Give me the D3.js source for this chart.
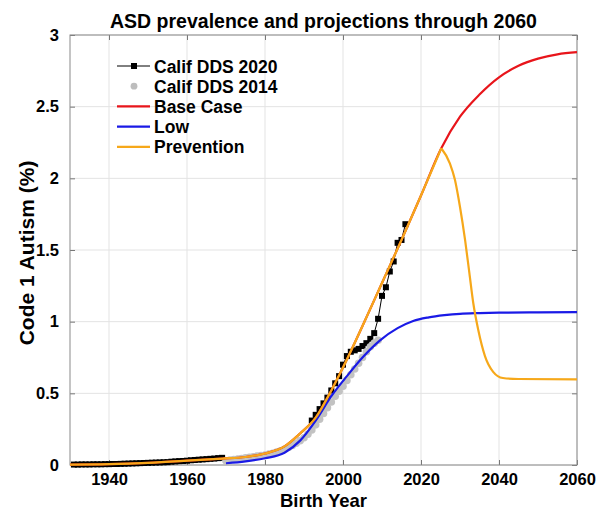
<!DOCTYPE html>
<html>
<head>
<meta charset="utf-8">
<script src="https://cdn.jsdelivr.net/npm/d3@7"></script>
<style>
  body { margin: 0; background: #fff; }
  svg text { font-family: "Liberation Sans", Arial, Helvetica, sans-serif; font-weight: bold; fill: #000; }
  .grid line { stroke: #e3e3e3; stroke-width: 1; }
</style>
</head>
<body>
<div id="main"></div>
<script>
var cfg = {
    width: 599,
    height: 512,
    left: 70,
    right: 577,
    top: 35,
    bottom: 465
};

// Calif DDS 2020, yearly (two stretches, gap 1970-1991)
var dds2020EarlyYears = d3.range(1931, 1970);
var dds2020EarlyValues = [
    0.003, 0.003, 0.004, 0.004, 0.004, 0.005, 0.005, 0.005, 0.006, 0.006,
    0.007, 0.007, 0.008, 0.009, 0.010, 0.011, 0.012, 0.013, 0.014, 0.015,
    0.016, 0.017, 0.018, 0.019, 0.020, 0.023, 0.025, 0.027, 0.028, 0.030,
    0.033, 0.035, 0.037, 0.039, 0.041, 0.043, 0.045, 0.048, 0.050
];
var dds2020LateYears = d3.range(1992, 2017);
var dds2020LateValues = [
    0.31, 0.35, 0.39, 0.43, 0.47, 0.52, 0.57, 0.62, 0.70, 0.76,
    0.79, 0.80, 0.81, 0.83, 0.85, 0.88, 0.92, 1.02, 1.18, 1.24,
    1.35, 1.42, 1.55, 1.57, 1.68
];

// Calif DDS 2014, yearly
var dds2014Years = d3.range(1970, 2010);
var dds2014Values = [
    0.030, 0.034, 0.038, 0.041, 0.045, 0.050, 0.054, 0.058, 0.062, 0.066,
    0.070, 0.076, 0.082, 0.090, 0.099, 0.110, 0.122, 0.136, 0.152, 0.170,
    0.190, 0.215, 0.245, 0.280, 0.320, 0.360, 0.400, 0.440, 0.480, 0.515,
    0.550, 0.590, 0.630, 0.670, 0.710, 0.750, 0.790, 0.825, 0.850, 0.870
];

// model projections
var baseYears = [1930, 1940, 1950, 1960, 1969, 1975, 1980, 1985, 1989, 1993,
    1997, 2000, 2005, 2010, 2015, 2020, 2025.2, 2030, 2035, 2040,
    2045, 2050, 2055, 2060];
var baseValues = [0.003, 0.006, 0.015, 0.030, 0.045, 0.056, 0.080, 0.130, 0.220, 0.330,
    0.520, 0.680, 0.970, 1.270, 1.570, 1.880, 2.210, 2.430, 2.585, 2.705,
    2.785, 2.835, 2.865, 2.880];

var lowYears = [1970, 1975, 1980, 1985, 1989, 1993, 1997, 2001, 2005, 2009.5,
    2014, 2018, 2022, 2026, 2030, 2035, 2040, 2050, 2060];
var lowValues = [0.012, 0.025, 0.047, 0.085, 0.170, 0.310, 0.480, 0.620, 0.750, 0.870,
    0.955, 1.005, 1.030, 1.045, 1.055, 1.060, 1.063, 1.065, 1.066];

var prevYears = [1930, 1940, 1950, 1960, 1969, 1975, 1980, 1985, 1989, 1993,
    1997, 2000, 2005, 2010, 2015, 2020, 2025.2, 2027.4, 2028.7, 2030, 2031.3,
    2032.4, 2033.4, 2034.7, 2036.4, 2038.5, 2041, 2045, 2060];
var prevValues = [0.003, 0.006, 0.015, 0.030, 0.045, 0.056, 0.080, 0.130, 0.220, 0.330,
    0.520, 0.680, 0.970, 1.270, 1.570, 1.880, 2.210, 2.105, 1.990, 1.800, 1.570,
    1.340, 1.130, 0.940, 0.760, 0.650, 0.607, 0.600, 0.598];
var prevPeakYear = 2025.2;

var xTicks = [1940, 1960, 1980, 2000, 2020, 2040, 2060];
var yTicks = [0, 0.5, 1, 1.5, 2, 2.5, 3];

var legendItems = [
    { label: "Calif DDS 2020", type: "square", color: "#000" },
    { label: "Calif DDS 2014", type: "dot", color: "#bdbdbd" },
    { label: "Base Case", type: "line", color: "#e8151b" },
    { label: "Low", type: "line", color: "#1a1ae6" },
    { label: "Prevention", type: "line", color: "#f6a81a" }
];

var x = d3.scaleLinear().domain([1930, 2060]).range([cfg.left, cfg.right]);
var y = d3.scaleLinear().domain([0, 3]).range([cfg.bottom, cfg.top]);

function zip(xs, ys) {
    return xs.map(function (d, i) { return [d, ys[i]]; });
}

var line = d3.line()
    .x(function (d) { return x(d[0]); })
    .y(function (d) { return y(d[1]); })
    .curve(d3.curveMonotoneX);
var straight = d3.line()
    .x(function (d) { return x(d[0]); })
    .y(function (d) { return y(d[1]); });

var svg = d3.select("#main").append("svg")
    .attr("width", cfg.width)
    .attr("height", cfg.height);

// grid
var grid = svg.append("g").attr("class", "grid");
grid.selectAll(".gx").data(xTicks).enter().append("line")
    .attr("x1", function (d) { return x(d); })
    .attr("x2", function (d) { return x(d); })
    .attr("y1", cfg.top).attr("y2", cfg.bottom);
grid.selectAll(".gy").data(yTicks).enter().append("line")
    .attr("y1", function (d) { return y(d); })
    .attr("y2", function (d) { return y(d); })
    .attr("x1", cfg.left).attr("x2", cfg.right);

// axes with inward ticks (box style)
function styleAxis(g) {
    g.select(".domain").remove();
    g.selectAll(".tick line").attr("stroke", "#777");
    g.selectAll(".tick text").style("font-size", "16.5px");
}
svg.append("g")
    .attr("transform", "translate(0," + cfg.bottom + ")")
    .call(d3.axisBottom(x).tickValues(xTicks).tickFormat(d3.format("d")).tickSize(-5).tickPadding(8))
    .call(styleAxis);
svg.append("g")
    .attr("transform", "translate(0," + cfg.top + ")")
    .call(d3.axisTop(x).tickValues(xTicks).tickFormat("").tickSize(-5))
    .call(styleAxis);
svg.append("g")
    .attr("transform", "translate(" + cfg.left + ",0)")
    .call(d3.axisLeft(y).tickValues(yTicks).tickFormat(d3.format("~g")).tickSize(-5).tickPadding(11))
    .call(styleAxis);
svg.append("g")
    .attr("transform", "translate(" + cfg.right + ",0)")
    .call(d3.axisRight(y).tickValues(yTicks).tickFormat("").tickSize(-5))
    .call(styleAxis);

svg.append("rect")
    .attr("x", cfg.left).attr("y", cfg.top)
    .attr("width", cfg.right - cfg.left).attr("height", cfg.bottom - cfg.top)
    .attr("fill", "none").attr("stroke", "#8a8a8a").attr("stroke-width", 1);

// data: DDS 2020
[zip(dds2020EarlyYears, dds2020EarlyValues), zip(dds2020LateYears, dds2020LateValues)].forEach(function (seg) {
    svg.append("path")
        .datum(seg)
        .attr("fill", "none").attr("stroke", "#000").attr("stroke-width", 1)
        .attr("d", straight);
    svg.append("g").selectAll("rect").data(seg).enter().append("rect")
        .attr("x", function (d) { return x(d[0]) - 3; })
        .attr("y", function (d) { return y(d[1]) - 3; })
        .attr("width", 6).attr("height", 6)
        .attr("fill", "#000");
});

// DDS 2014
svg.selectAll(".dot").data(zip(dds2014Years, dds2014Values)).enter().append("circle")
    .attr("cx", function (d) { return x(d[0]); })
    .attr("cy", function (d) { return y(d[1]); })
    .attr("r", 3.8)
    .attr("fill", "#c2c2c2");

// models
svg.append("path").datum(zip(baseYears, baseValues))
    .attr("fill", "none").attr("stroke", legendItems[2].color).attr("stroke-width", 2.2)
    .attr("d", line);
svg.append("path").datum(zip(lowYears, lowValues))
    .attr("fill", "none").attr("stroke", legendItems[3].color).attr("stroke-width", 2.2)
    .attr("d", line);
var prev = zip(prevYears, prevValues);
[prev.filter(function (d) { return d[0] <= prevPeakYear; }),
 prev.filter(function (d) { return d[0] >= prevPeakYear; })].forEach(function (seg) {
    svg.append("path").datum(seg)
        .attr("fill", "none").attr("stroke", legendItems[4].color).attr("stroke-width", 2.2)
        .attr("d", line);
});

// legend
var lg = svg.append("g").attr("transform", "translate(117,66)");
var rows = lg.selectAll(".row").data(legendItems).enter().append("g")
    .attr("transform", function (d, i) { return "translate(0," + (i * 20.2) + ")"; });
rows.filter(function (d) { return d.type !== "dot"; }).append("line")
    .attr("x1", 0).attr("x2", 33).attr("y1", 0).attr("y2", 0)
    .attr("stroke", function (d) { return d.color; })
    .attr("stroke-width", function (d) { return d.type === "square" ? 1 : 2.2; });
rows.filter(function (d) { return d.type === "square"; }).append("rect")
    .attr("x", 14).attr("y", -3).attr("width", 6).attr("height", 6).attr("fill", "#000");
rows.filter(function (d) { return d.type === "dot"; }).append("circle")
    .attr("cx", 17).attr("cy", 0).attr("r", 3.4).attr("fill", "#bdbdbd");
rows.append("text")
    .attr("x", 37).attr("y", 6.5)
    .style("font-size", "17.5px")
    .text(function (d) { return d.label; });

// titles
svg.append("text")
    .attr("x", (cfg.left + cfg.right) / 2).attr("y", 28)
    .attr("text-anchor", "middle")
    .style("font-size", "19.5px")
    .text("ASD prevalence and projections through 2060");
svg.append("text")
    .attr("x", (cfg.left + cfg.right) / 2).attr("y", 507)
    .attr("text-anchor", "middle")
    .style("font-size", "18.5px")
    .text("Birth Year");
svg.append("text")
    .attr("transform", "translate(34," + 253 + ") rotate(-90)")
    .attr("text-anchor", "middle")
    .style("font-size", "21px")
    .text("Code 1 Autism (%)");
</script>
</body>
</html>
